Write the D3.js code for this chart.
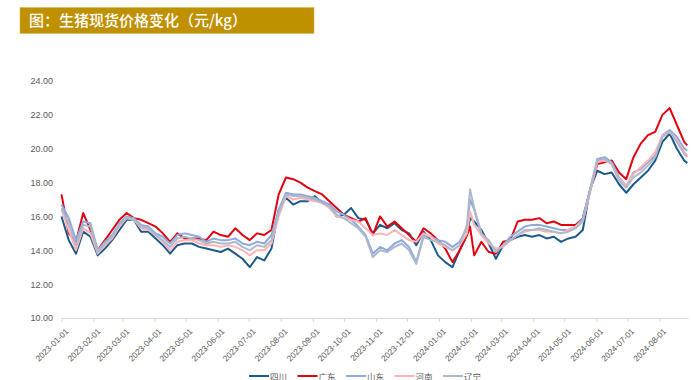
<!DOCTYPE html>
<html><head><meta charset="utf-8">
<script src="https://cdn.jsdelivr.net/npm/d3@7"></script>
<style>
html,body{margin:0;padding:0;background:#fff;}
svg{display:block;font-family:"Noto Sans CJK SC","Liberation Sans",sans-serif;}
</style></head>
<body><svg id="c" width="693" height="380"></svg>
<script>
const title = "图：生猪现货价格变化（元/kg）";
const dates = [
"2023-01-01","2023-01-08","2023-01-15","2023-01-22","2023-01-29","2023-02-05","2023-02-12","2023-02-19","2023-02-26","2023-03-05",
"2023-03-12","2023-03-19","2023-03-26","2023-04-02","2023-04-09","2023-04-16","2023-04-23","2023-04-30","2023-05-07","2023-05-14",
"2023-05-21","2023-05-28","2023-06-04","2023-06-11","2023-06-18","2023-06-25","2023-07-02","2023-07-09","2023-07-16","2023-07-23",
"2023-07-30","2023-08-06","2023-08-13","2023-08-20","2023-08-27","2023-09-03","2023-09-10","2023-09-17","2023-09-24","2023-10-01",
"2023-10-08","2023-10-15","2023-10-22","2023-10-29","2023-11-05","2023-11-12","2023-11-19","2023-11-26","2023-12-03","2023-12-10",
"2023-12-17","2023-12-24","2023-12-31","2024-01-07","2024-01-14","2024-01-21","2024-01-28","2024-01-31","2024-02-04","2024-02-11",
"2024-02-18","2024-02-25","2024-03-03","2024-03-10","2024-03-17","2024-03-24","2024-03-31","2024-04-07","2024-04-14","2024-04-21",
"2024-04-28","2024-05-05","2024-05-12","2024-05-19","2024-05-26","2024-06-02","2024-06-09","2024-06-16","2024-06-23","2024-06-30",
"2024-07-07","2024-07-14","2024-07-21","2024-07-28","2024-08-04","2024-08-11","2024-08-18","2024-08-25","2024-08-28"];
const sichuan = [
16.0,14.6,13.8,15.1,14.8,13.7,14.1,14.6,15.2,15.8,
15.8,15.1,15.1,14.7,14.3,13.8,14.3,14.4,14.4,14.2,
14.1,14.0,13.9,14.1,13.8,13.5,13.0,13.6,13.4,14.1,
16.4,17.1,16.7,16.9,16.9,17.2,16.8,16.7,16.0,16.1,
16.5,15.9,15.8,15.0,15.5,15.3,15.6,15.2,15.0,14.3,
15.1,14.6,13.7,13.3,13.0,14.0,14.9,15.9,15.7,15.2,
14.4,13.5,14.3,14.6,14.8,14.9,14.8,14.9,14.7,14.8,
14.5,14.7,14.8,15.2,17.6,18.7,18.5,18.6,17.9,17.4,
17.9,18.3,18.7,19.3,20.4,20.9,20.0,19.3,19.15];
const guangdong = [
17.3,15.0,14.5,16.2,15.2,14.0,14.6,15.2,15.8,16.2,
15.9,15.8,15.6,15.4,15.0,14.5,15.0,14.7,14.7,14.7,
14.6,15.1,14.9,14.8,15.3,14.9,14.6,15.0,14.9,15.2,
17.3,18.3,18.2,18.0,17.7,17.5,17.3,16.9,16.5,16.1,
15.9,15.7,15.9,14.9,16.0,15.4,15.7,15.3,14.9,14.5,
15.3,15.0,14.6,14.1,13.3,14.0,14.9,15.4,13.7,14.5,
13.9,13.8,14.5,14.6,15.7,15.8,15.8,15.9,15.6,15.7,
15.5,15.5,15.5,15.9,17.5,19.1,19.2,19.3,18.6,18.2,
19.5,20.3,20.8,21.0,22.0,22.4,21.4,20.4,20.2];
const shandong = [
16.7,15.9,14.6,15.7,15.6,14.0,14.5,14.9,15.6,16.0,
15.9,15.5,15.4,15.0,14.8,14.4,14.9,15.0,14.9,14.8,
14.5,14.7,14.6,14.6,14.7,14.4,14.3,14.5,14.4,14.9,
16.4,17.4,17.3,17.3,17.2,17.1,16.9,16.7,16.3,16.1,
15.8,15.4,14.9,13.8,14.2,14.0,14.4,14.6,14.2,13.3,
14.9,14.8,14.6,14.5,14.2,14.5,15.3,17.0,16.4,14.9,
14.5,13.95,14.3,14.8,15.1,15.4,15.5,15.5,15.4,15.3,
15.2,15.2,15.4,15.9,17.6,19.4,19.5,19.2,18.3,17.8,
18.6,18.8,19.2,19.6,20.8,21.1,20.7,20.0,19.9];
const henan = [
16.4,15.2,14.0,15.3,15.0,13.8,14.3,14.7,15.4,15.9,
15.8,15.3,15.2,14.9,14.5,14.0,14.5,14.6,14.6,14.4,
14.3,14.3,14.2,14.3,14.2,14.0,13.7,14.0,14.0,14.4,
16.0,17.2,17.0,17.1,17.0,16.9,16.8,16.5,16.0,15.9,
15.8,15.7,15.3,14.9,15.0,14.9,15.2,14.9,14.6,14.5,
15.0,14.8,14.4,14.2,14.0,14.3,15.0,16.3,15.5,14.9,
14.4,14.1,14.2,14.6,14.9,15.1,15.2,15.2,15.1,15.1,
15.0,15.2,15.4,15.7,17.4,19.2,19.3,19.1,18.2,17.8,
18.5,18.9,19.3,19.8,20.8,21.0,20.5,19.8,19.6];
const liaoning = [
16.5,15.6,14.3,15.5,15.4,13.9,14.4,14.8,15.5,15.9,
15.8,15.4,15.3,14.9,14.6,14.2,14.7,14.8,14.7,14.6,
14.4,14.5,14.4,14.4,14.5,14.2,14.0,14.3,14.2,14.6,
16.2,17.3,17.2,17.2,17.1,17.0,16.8,16.6,16.1,15.9,
15.6,15.3,14.8,13.6,14.0,13.9,14.2,14.4,14.0,13.2,
14.8,14.6,14.5,14.3,14.0,14.3,15.5,17.6,16.5,15.0,
14.6,13.9,14.3,14.6,14.9,15.2,15.2,15.3,15.2,15.1,
15.0,15.1,15.3,15.7,17.5,19.3,19.4,19.1,18.1,17.7,
18.3,18.6,19.0,19.5,20.7,21.0,20.4,19.7,19.5];
const seriesNames = ["四川","广东","山东","河南","辽宁"];
const seriesColors = ["#1b5a8a","#e3000f","#8eaadb","#ffb3b8","#adb9ca"];
const yTicks = [10,12,14,16,18,20,22,24];
const xDomain = ["2023-01-01","2024-08-29"];

const parse = d3.timeParse("%Y-%m-%d");
const fmt = d3.timeFormat("%Y-%m-%d");
const svg = d3.select("#c");
const allSeries = [sichuan, guangdong, shandong, henan, liaoning];

// title banner
svg.append("rect").attr("x",20).attr("y",7.5).attr("width",294).attr("height",26)
  .attr("fill","#bf9000").attr("stroke","#d9b650").attr("stroke-width",0.6);
svg.append("text").attr("x",29).attr("y",26).attr("fill","#fff")
  .attr("font-size",15).attr("font-weight",500).text(title);

const x = d3.scaleTime().domain(xDomain.map(parse)).range([61.5, 688.3]);
const y = d3.scaleLinear().domain([10,24]).range([318, 81]);

// y labels
const ya = svg.append("g").attr("transform","translate(55,0)")
  .call(d3.axisLeft(y).tickValues(yTicks).tickFormat(d3.format(".2f")).tickSize(0).tickPadding(2));
ya.select(".domain").remove();
ya.selectAll("text").attr("fill","#595959").attr("font-size",9)
  .attr("font-family","'Liberation Sans','Noto Sans',sans-serif");

// x axis
const months = d3.timeMonth.range(parse("2023-01-01"), parse("2024-08-02"));
const xa = svg.append("g").attr("transform","translate(0,318)")
  .call(d3.axisBottom(x).tickValues(months).tickFormat(fmt).tickSize(4).tickSizeOuter(0));
xa.select(".domain").attr("stroke","#d9d9d9");
xa.selectAll(".tick line").attr("stroke","#d9d9d9");
xa.selectAll("text").attr("fill","#595959").attr("font-size",8.3)
  .attr("font-family","'Liberation Sans','Noto Sans',sans-serif")
  .attr("text-anchor","end").attr("dy",0).attr("dx",0)
  .attr("transform","translate(2,9) rotate(-45)");

// lines
const line = d3.line().x((d,i)=>x(parse(dates[i]))).y(d=>y(d));
allSeries.forEach((s,k)=>{
  svg.append("path").datum(s).attr("d",line).attr("fill","none")
    .attr("stroke",seriesColors[k]).attr("stroke-width",2).attr("stroke-linejoin","round");
});

// legend
const lg = svg.append("g");
seriesNames.forEach((n,k)=>{
  const lx = 249 + k*48.5;
  lg.append("line").attr("x1",lx).attr("x2",lx+20).attr("y1",376).attr("y2",376)
    .attr("stroke",seriesColors[k]).attr("stroke-width",2);
  lg.append("text").attr("x",lx+21).attr("y",375.5).attr("dominant-baseline","central")
    .attr("font-size",8.5).attr("fill","#595959").text(n);
});
</script></body></html>
